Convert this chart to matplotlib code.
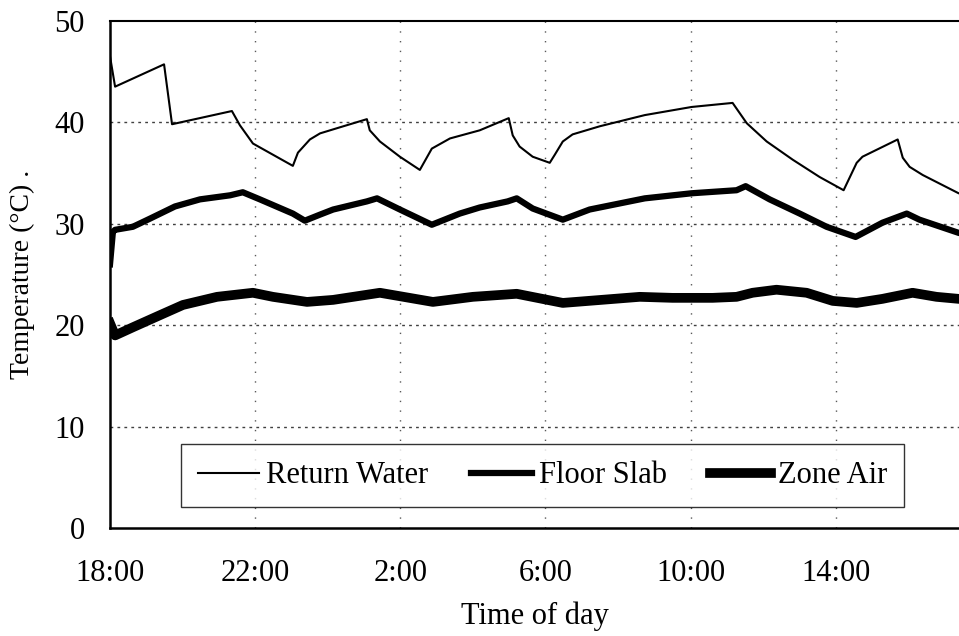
import matplotlib
matplotlib.use('Agg')
import matplotlib.pyplot as plt

# hours after 18:00
rw_hours = [0.0, 0.14, 1.49, 1.71, 3.36, 3.58, 3.94, 5.04, 5.18, 5.51, 5.79, 6.34,
            7.08, 7.16, 7.44, 7.99, 8.54, 8.87, 9.37, 10.19, 10.99, 11.10, 11.29,
            11.65, 12.12, 12.26, 12.48, 12.75, 13.50, 14.74, 16.03, 17.16, 17.55,
            18.10, 18.82, 19.56, 20.22, 20.58, 20.74, 21.71, 21.85, 22.04, 22.40,
            23.39, 24.0]
rw_temp = [46.5, 43.5, 45.7, 39.8, 41.1, 39.7, 37.9, 35.7, 37.0, 38.3, 38.9, 39.5,
           40.3, 39.2, 38.1, 36.6, 35.3, 37.4, 38.4, 39.2, 40.4, 38.7, 37.6,
           36.6, 36.0, 36.8, 38.1, 38.8, 39.6, 40.7, 41.5, 41.9, 39.9,
           38.1, 36.3, 34.6, 33.3, 36.0, 36.6, 38.3, 36.5, 35.6, 34.8,
           33.0, 32.6]

fs_hours = [0.0, 0.08, 0.14, 0.63, 1.10, 1.79, 2.48, 3.31, 3.66, 4.13, 5.04, 5.37,
            5.79, 6.15, 7.08, 7.36, 7.99, 8.87, 9.64, 10.19, 10.96, 11.21, 11.65,
            12.48, 13.22, 14.74, 16.03, 17.27, 17.52, 18.18, 19.01, 19.75, 20.55,
            21.29, 21.96, 22.31, 23.39, 24.0]
fs_temp = [26.0, 29.2, 29.4, 29.7, 30.5, 31.7, 32.4, 32.8, 33.1, 32.4, 31.0, 30.3,
           30.9, 31.4, 32.2, 32.5, 31.4, 29.9, 31.0, 31.6, 32.2, 32.5, 31.5,
           30.4, 31.4, 32.5, 33.0, 33.3, 33.7, 32.4, 31.0, 29.7, 28.7,
           30.1, 31.0, 30.4, 29.1, 28.6]

za_hours = [0.0, 0.14, 0.63, 1.38, 2.01, 2.95, 3.94, 4.49, 5.43, 6.15, 7.44, 8.90,
            10.0, 11.21, 12.48, 14.60, 15.50, 16.61, 17.27, 17.71, 18.37, 19.20,
            19.92, 20.58, 21.29, 22.12, 22.78, 23.39, 24.0]
za_temp = [20.2, 19.0, 19.8, 21.0, 22.0, 22.8, 23.2, 22.8, 22.3, 22.5, 23.2, 22.3,
           22.8, 23.1, 22.2, 22.8, 22.7, 22.7, 22.8, 23.2, 23.5, 23.2,
           22.4, 22.2, 22.6, 23.2, 22.8, 22.6, 22.5]

tick_hours = [0, 4, 8, 12, 16, 20]
tick_labels = ['18:00', '22:00', '2:00', '6:00', '10:00', '14:00']

plt.rcParams['font.family'] = ['Liberation Serif', 'DejaVu Serif']

fig = plt.figure(figsize=(9.59, 6.36), dpi=100)
ax = fig.add_axes([0.1147, 0.1693, 0.8853, 0.7982])

ax.plot(rw_hours, rw_temp, color='black', linewidth=1.5, label='Return Water')
ax.plot(fs_hours, fs_temp, color='black', linewidth=4.5, solid_joinstyle='round',
        label='Floor Slab')
ax.plot(za_hours, za_temp, color='black', linewidth=7, solid_joinstyle='round',
        label='Zone Air')

ax.set_xlim(0, 23.4)
ax.set_ylim(0, 50)
ax.set_xticks(tick_hours)
ax.set_xticklabels(tick_labels)
ax.set_yticks([0, 10, 20, 30, 40, 50])
ax.tick_params(axis='both', length=0, labelsize=22)
ax.tick_params(axis='y', pad=18)
ax.tick_params(axis='x', pad=22)

for y in [10, 20, 30, 40]:
    ax.axhline(y, color='0.25', linewidth=1, linestyle=(0, (2, 3)), zorder=0)
for x in tick_hours[1:]:
    ax.axvline(x, color='0.35', linewidth=1, linestyle=(0, (1, 6)), zorder=0)

ax.spines['right'].set_visible(False)
ax.spines['left'].set_linewidth(1.8)
ax.spines['bottom'].set_linewidth(1.8)
ax.spines['top'].set_linewidth(1.5)

ax.set_xlabel('Time of day', fontsize=22, labelpad=10)
ax.set_ylabel('Temperature (°C) .', fontsize=20, labelpad=14)

leg = ax.legend(loc='lower left', bbox_to_anchor=(0.0838, 0.042),
                ncol=3, fontsize=22, handlelength=2.0, handletextpad=0.23,
                columnspacing=1.4, borderpad=0.55, frameon=True,
                fancybox=False, borderaxespad=0)
leg.get_frame().set_edgecolor('black')
leg.get_frame().set_linewidth(1.0)

fig.savefig('out.png', dpi=100)
